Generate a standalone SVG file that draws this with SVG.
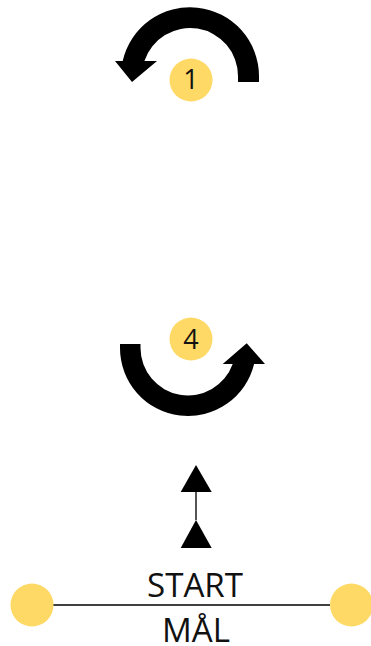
<svg xmlns="http://www.w3.org/2000/svg" width="371" height="646" viewBox="0 0 371 646">
  <style>
    .arrow { fill: #000000; }
    .badge { fill: #FFD966; }
    .num { font-family: "Open Sans", "Liberation Sans", sans-serif; font-size: 27px; fill: #111111; text-anchor: middle; }
    .lbl { font-family: "Open Sans", "Liberation Sans", sans-serif; font-size: 32px; fill: #111111; text-anchor: middle; }
    .tri { fill: #000000; }
  </style>
  <rect width="371" height="646" fill="#ffffff"/>
  <g id="turn1">
    <path class="arrow" d="M 238 82 L 259 82 L 259 76 A 69 69 0 0 0 122.7 61 L 115 61 L 132 82 L 157 61 L 144.4 61 A 48 48 0 0 1 238 76 Z"/>
    <circle class="badge" cx="191" cy="80" r="21.5"/>
    <text class="num" x="191" y="89">1</text>
  </g>
  <g id="turn4">
    <path class="arrow" d="M 120 344 L 140.5 344 L 140.5 348 A 47.5 47.5 0 0 0 232.7 364 L 222.7 364 L 246.7 343.3 L 265 364 L 254.1 364 A 68 68 0 0 1 120 348 Z"/>
    <circle class="badge" cx="191" cy="339" r="21.5"/>
    <text class="num" x="191" y="349">4</text>
  </g>
  <g id="connectors">
    <line x1="196" y1="520" x2="196" y2="491" stroke="#555555" stroke-width="2"/>
    <polygon class="tri" points="196,465 180.7,492 211.7,492"/>
    <polygon class="tri" points="196,520 180.7,548 211.7,548"/>
    <line x1="53" y1="605" x2="330" y2="605" stroke="#000000" stroke-width="1.5"/>
  </g>
  <g id="start-left">
    <circle class="badge" cx="32" cy="605" r="21.5"/>
  </g>
  <g id="start-right">
    <circle class="badge" cx="351.5" cy="605" r="21.5"/>
  </g>
  <g id="labels">
    <text class="lbl" x="195" y="597" textLength="96" lengthAdjust="spacingAndGlyphs">START</text>
    <text class="lbl" x="196" y="642" textLength="68" lengthAdjust="spacingAndGlyphs">MÅL</text>
  </g>
</svg>
